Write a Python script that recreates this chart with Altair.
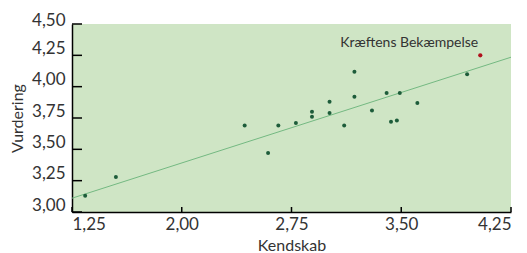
import altair as alt
import pandas as pd

kendskab = [1.34, 1.55, 2.43, 2.59, 2.66, 2.78, 2.89, 2.89, 3.01, 3.01, 3.11,
            3.18, 3.18, 3.30, 3.40, 3.43, 3.47, 3.49, 3.61, 3.95, 4.04]
vurdering = [3.13, 3.28, 3.69, 3.47, 3.69, 3.71, 3.80, 3.76, 3.88, 3.79, 3.69,
             4.12, 3.92, 3.81, 3.95, 3.72, 3.73, 3.95, 3.87, 4.10, 4.25]
highlight = [False] * 20 + [True]
label_name = "Kræftens Bekæmpelse"

trend_x = [1.25, 4.25]
trend_y = [3.11, 4.235]

x_ticks = [1.25, 2.00, 2.75, 3.50, 4.25]
y_ticks = [3.00, 3.25, 3.50, 3.75, 4.00, 4.25, 4.50]

df = pd.DataFrame({"Kendskab": kendskab, "Vurdering": vurdering, "hl": highlight})
df["navn"] = [label_name if h else "" for h in highlight]
tdf = pd.DataFrame({"Kendskab": trend_x, "Vurdering": trend_y})
ydf = pd.DataFrame({"Vurdering": y_ticks})
xdf = pd.DataFrame({"Kendskab": x_ticks})

W, H = 439, 188
FONT = "Lato"
fmt = "replace(format(datum.value, '.2f'), '.', ',')"

xs = alt.Scale(domain=[1.25, 4.25], nice=False, zero=False)
ys = alt.Scale(domain=[3.0, 4.5], nice=False, zero=False)

xaxis = alt.Axis(values=x_ticks, labelExpr=fmt, ticks=False, grid=False,
                 labelPadding=4, labelFontSize=17, titleFontSize=16,
                 labelFont=FONT, titleFont=FONT, titleFontWeight="normal",
                 labelColor="#333333", titleColor="#333333", labelOverlap=False,
                 domainColor="#000000", domainWidth=1.5, titlePadding=5)
yaxis = alt.Axis(values=y_ticks, labelExpr=fmt, ticks=False, grid=False,
                 labelPadding=7, labelFontSize=17, titleFontSize=16,
                 labelFont=FONT, titleFont=FONT, titleFontWeight="normal",
                 labelColor="#333333", titleColor="#333333",
                 labelOffset=alt.condition("datum.value >= 4.5", alt.value(-4), alt.value(-7)),
                 labelOverlap=False, labelBound=False,
                 domainColor="#000000", domainWidth=1.5, titlePadding=6)

X = alt.X("Kendskab:Q", scale=xs, axis=xaxis, title="Kendskab")
Y = alt.Y("Vurdering:Q", scale=ys, axis=yaxis, title="Vurdering")

base = alt.Chart(df)

reg = alt.Chart(tdf).mark_line(color="#74b982", strokeWidth=1).encode(x=X, y=Y)

pts = base.transform_filter("!datum.hl").mark_circle(
    size=16, opacity=1, color="#1d5c3a").encode(x=X, y=Y)

red = base.transform_filter("datum.hl").mark_circle(
    size=18, opacity=1, color="#b0101c").encode(x=X, y=Y)

lbl = base.transform_filter("datum.hl").mark_text(
    align="right", baseline="middle", dx=-2, dy=-12, fontSize=14, font=FONT,
    color="#333333").encode(x=X, y=Y, text="navn:N")

yt = alt.Chart(ydf).mark_rule(color="#000000", strokeWidth=1.5).encode(
    y=Y, x=alt.value(0), x2=alt.value(10))
xt = alt.Chart(xdf).mark_rule(color="#000000", strokeWidth=1.5).encode(
    x=X, y=alt.value(H), y2=alt.value(H - 5))

chart = alt.layer(reg, pts, red, lbl, yt, xt).properties(
    width=W, height=H,
    autosize=alt.AutoSizeParams(type="none"),
    padding={"left": 64, "top": 16, "right": 8, "bottom": 41},
    background="#ffffff",
).configure_view(fill="#cfe5c5", stroke=None)

chart.save("out.html", embed_options={"renderer": "svg", "actions": False})
